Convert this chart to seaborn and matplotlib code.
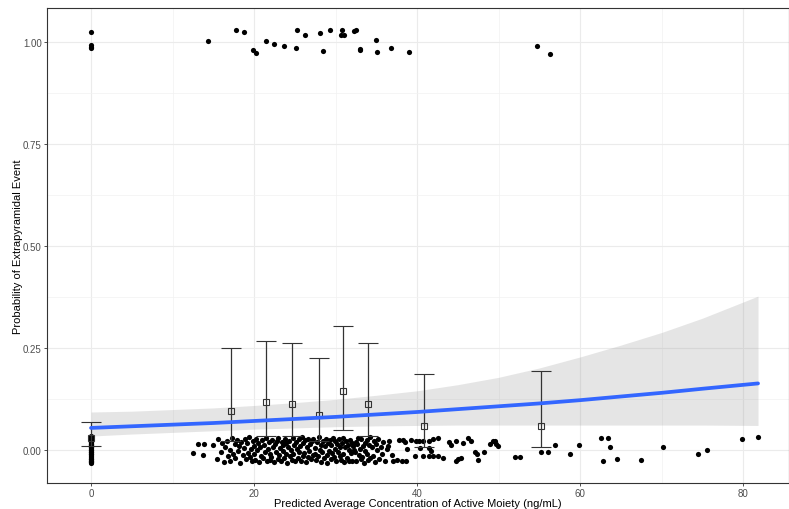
import matplotlib
matplotlib.use("Agg")
import matplotlib.pyplot as plt
import seaborn as sns
import pandas as pd
from matplotlib.ticker import FixedLocator

# ---------------- data ----------------
# subjects with an event (y near 1, vertically jittered)
event_x = [0, 0, 0, 0, 14.3, 17.8, 18.8, 19.9, 20.2, 21.5, 22.5, 23.7, 25.1, 25.3,
           26.2, 28.1, 28.4, 29.3, 30.6, 30.8, 31.0, 32.2, 32.5, 33.0, 33.0, 35.0,
           35.1, 36.8, 39.0, 54.7, 56.3]
event_y = [1.024, 0.993, 0.988, 0.984, 1.003, 1.030, 1.025, 0.980, 0.972, 1.001,
           0.996, 0.989, 0.985, 1.030, 1.017, 1.022, 0.978, 1.028, 1.016, 1.029,
           1.016, 1.026, 1.030, 0.983, 0.979, 1.005, 0.975, 0.985, 0.975, 0.991, 0.971]

# placebo subjects without an event (x = 0, jittered around 0)
zero_y = [0.031, -0.028, 0.015, -0.006, 0.024, -0.019, 0.002, -0.031, 0.011, 0.027,
          -0.013, -0.024, 0.019, 0.006, -0.002, 0.029, -0.017, 0.013, -0.029, 0.022,
          -0.009, 0.008, -0.021, 0.026, -0.004, 0.017, -0.026, 0.001, 0.033, -0.011,
          0.020, -0.015, 0.004, -0.030, 0.010, -0.007, 0.025, -0.022, 0.014, -0.001]

# dense band of non-event subjects (approx. 15-36 ng/mL)
dense_x = [15.0, 15.4, 15.6, 15.9, 16.1, 16.3, 16.4, 16.7, 16.8, 17.0,
           17.1, 17.3, 17.4, 17.6, 17.7, 17.9, 18.0, 18.1, 18.3, 18.4,
           18.6, 18.7, 18.9, 19.0, 19.1, 19.3, 19.4, 19.5,
           19.62, 19.71, 19.85, 19.93, 20.04, 20.12, 20.28, 20.37, 20.46, 20.58,
           20.71, 20.86, 20.97, 21.08, 21.16, 21.29, 21.42, 21.55, 21.68, 21.77,
           21.89, 21.98, 22.07, 22.21, 22.33, 22.41, 22.56, 22.68, 22.79, 22.88, 22.97,
           23.08, 23.17, 23.26, 23.38, 23.49, 23.57, 23.66, 23.78, 23.86, 23.97,
           24.09, 24.18, 24.27, 24.39, 24.51, 24.62, 24.71, 24.83, 24.92, 25.04,
           25.13, 25.22, 25.36, 25.45, 25.53, 25.64, 25.76, 25.85, 25.94, 26.03, 26.14,
           26.26, 26.35, 26.47, 26.58, 26.66, 26.77, 26.89, 26.98, 27.07, 27.19,
           27.28, 27.41, 27.52, 27.61, 27.73, 27.82, 27.94, 28.06, 28.15, 28.24,
           28.37, 28.46, 28.58, 28.69, 28.77, 28.88, 28.99, 29.08, 29.17, 29.29,
           29.38, 29.47,
           29.56, 29.68, 29.79, 29.87, 29.98, 30.07, 30.18, 30.26, 30.39, 30.48,
           30.57, 30.66, 30.78, 30.87, 30.96, 31.08, 31.19, 31.27, 31.36, 31.48,
           31.59, 31.67, 31.78, 31.86, 31.97, 32.06, 32.17, 32.28, 32.36, 32.44,
           32.53, 32.64, 32.77, 32.86, 32.95, 33.07, 33.16, 33.28, 33.37, 33.49,
           33.58, 33.66, 33.79, 33.88, 33.97, 34.08, 34.19, 34.27, 34.43, 34.56,
           34.68, 34.81, 34.93, 35.08, 35.21, 35.37, 35.52, 35.68, 35.83, 36.02, 36.24]
dense_y = [0.012, -0.021, 0.027, -0.004, 0.018, -0.029, 0.006, 0.023, -0.015, 0.001,
           -0.026, 0.030, -0.009, 0.014, -0.019, 0.025, -0.002, 0.009, -0.031, 0.020,
           -0.012, 0.004, 0.028, -0.023, 0.016, -0.007, 0.031, -0.017, 0.003, -0.028,
           0.022, -0.011, 0.010, -0.024, 0.026, -0.001, 0.017, -0.030, 0.007, -0.014,
           0.024, -0.020, 0.013, -0.005, 0.029, -0.027, 0.002, 0.019, -0.010, -0.025,
           -0.018, 0.025, 0.008, -0.030, 0.015, -0.006, 0.021, -0.022, 0.030, -0.013,
           0.004, -0.027, 0.019, 0.011, -0.003, -0.020, 0.027, -0.009, 0.016, -0.032,
           0.006, 0.023, -0.016, 0.000, -0.024, 0.029, -0.011, 0.013, -0.028, 0.020,
           0.002, -0.019, 0.026, -0.005, 0.010, -0.026, 0.031, -0.014, 0.017, -0.008,
           0.024, -0.029, 0.007, -0.017, 0.028, -0.002, 0.014, -0.023, 0.022, -0.012,
           0.027, -0.010, 0.005, -0.025, 0.019, -0.016, 0.031, 0.001, -0.029, 0.012,
           -0.006, 0.023, -0.020, 0.009, 0.028, -0.013, -0.031, 0.016, -0.002, 0.025,
           -0.022, 0.011, -0.008, 0.030, -0.018, 0.003, 0.021, -0.027, 0.014, -0.004,
           0.026, -0.015, 0.008, -0.024, 0.018, -0.011, 0.029, -0.030, 0.006, 0.022,
           -0.019, 0.013, -0.001, -0.026, 0.024, -0.007, 0.017, -0.028, 0.010, 0.000,
           -0.005, 0.020, -0.027, 0.014, 0.029, -0.012, 0.003, -0.022, 0.026, -0.017,
           0.009, -0.031, 0.018, -0.003, 0.024, -0.010, -0.025, 0.011, 0.031, -0.019,
           0.006, -0.014, 0.022, -0.029, 0.015, -0.001, 0.027, -0.021, 0.008, -0.009,
           0.019, -0.026, 0.002]

# sparser non-event subjects read individually
sparse_x = [12.5, 13.1, 13.7, 13.8,
            36.4, 36.6, 36.9, 37.0, 37.5, 37.8, 38.1, 38.2, 38.5, 38.6, 38.8, 39.2,
            39.7, 39.8, 40.2, 40.3, 40.7, 40.7, 41.4, 41.4, 41.4, 41.7, 41.9, 41.9,
            42.5, 42.6, 43.2, 43.9, 44.1, 44.7, 44.8, 45.0, 45.4, 45.6, 46.2, 46.6,
            47.1, 47.3, 47.4, 48.2, 48.9, 49.3, 49.6, 49.7, 49.9, 52.0, 52.6, 55.2,
            56.1, 56.9, 58.7, 59.9, 62.6, 62.8, 63.4, 63.7, 64.5, 67.4, 70.1, 74.4,
            75.6, 79.8, 81.8]
sparse_y = [-0.007, 0.015, -0.012, 0.015,
            0.010, 0.023, -0.012, -0.028, -0.024, 0.025, -0.026, 0.025, 0.020, -0.026,
            0.002, 0.025, -0.014, 0.022, 0.023, 0.004, 0.022, -0.014, 0.023, 0.004,
            -0.014, -0.002, 0.027, -0.015, 0.029, -0.015, -0.020, 0.020, 0.012, 0.021,
            -0.026, -0.022, -0.020, 0.016, 0.029, 0.021,
            -0.006, -0.010, -0.024, -0.006, 0.015, 0.021, 0.022, 0.015, 0.009, -0.018,
            -0.018, -0.006, -0.006, 0.013, -0.009, 0.012, 0.029, -0.026, 0.029, 0.007,
            -0.023, -0.025, 0.007, -0.010, 0.001, 0.026, 0.031]

# logistic fit and its 95% band
fit_x = [0, 5, 10, 15, 20, 25, 30, 35, 40, 45, 50, 55, 60, 65, 70, 75, 81.8]
fit_y = [0.054, 0.058, 0.062, 0.066, 0.071, 0.076, 0.081, 0.087, 0.093, 0.100,
         0.107, 0.114, 0.122, 0.131, 0.140, 0.150, 0.163]
fit_lo = [0.034, 0.039, 0.043, 0.047, 0.051, 0.054, 0.057, 0.059, 0.060, 0.061,
          0.061, 0.061, 0.061, 0.061, 0.061, 0.061, 0.060]
fit_hi = [0.093, 0.095, 0.099, 0.103, 0.109, 0.116, 0.124, 0.134, 0.145, 0.160,
          0.178, 0.201, 0.228, 0.257, 0.288, 0.323, 0.377]

# observed proportions by concentration bin with 95% CI
bin_x = [0, 17.2, 21.5, 24.6, 28.0, 30.9, 34.0, 40.8, 55.2]
bin_mean = [0.030, 0.096, 0.117, 0.113, 0.086, 0.145, 0.113, 0.058, 0.059]
bin_lo = [0.009, 0.021, 0.034, 0.034, 0.021, 0.050, 0.034, 0.008, 0.008]
bin_hi = [0.069, 0.251, 0.268, 0.261, 0.225, 0.303, 0.261, 0.187, 0.193]

x_ticks = [0, 20, 40, 60, 80]
y_ticks = [0.0, 0.25, 0.5, 0.75, 1.0]
y_tick_labels = ["0.00", "0.25", "0.50", "0.75", "1.00"]
x_title = "Predicted Average Concentration of Active Moiety (ng/mL)"
y_title = "Probability of Extrapyramidal Event"

# ---------------- build table ----------------
pts = pd.DataFrame({
    "conc": list(event_x) + [0] * len(zero_y) + list(dense_x) + list(sparse_x),
    "prob": list(event_y) + list(zero_y) + list(dense_y[:len(dense_x)]) + list(sparse_y[:len(sparse_x)]),
})
fit = pd.DataFrame({"conc": fit_x, "prob": fit_y, "lo": fit_lo, "hi": fit_hi})

# ---------------- plot ----------------
sns.set_theme(style="white")
plt.rcParams['font.family'] = ['Liberation Sans', 'DejaVu Sans']

fig = plt.figure(figsize=(7.89, 5.10), dpi=100)
ax = fig.add_axes([47 / 789, 1 - 484 / 510, (789 - 47) / 789, (484 - 9) / 510])

sns.scatterplot(data=pts, x="conc", y="prob", color="black", s=14, linewidth=0,
                ax=ax, zorder=3)

ax.fill_between(fit["conc"], fit["lo"], fit["hi"], color="#999999", alpha=0.25,
                linewidth=0, zorder=2)

yerr = [[m - l for m, l in zip(bin_mean, bin_lo)], [h - m for m, h in zip(bin_mean, bin_hi)]]
ax.errorbar(bin_x, bin_mean, yerr=yerr, fmt="s", mfc="none", mec="#333333", ms=5,
            mew=0.8, ecolor="#333333", elinewidth=0.9, capsize=7.5, capthick=0.9,
            zorder=4)

sns.lineplot(data=fit, x="conc", y="prob", color="#3366FF", linewidth=2.7, ax=ax,
             zorder=5)

ax.set_xlim(-5.4, 85.6)
ax.set_ylim(-0.081, 1.083)
ax.set_xticks(x_ticks)
ax.set_xticklabels([str(t) for t in x_ticks])
ax.set_yticks(y_ticks)
ax.set_yticklabels(y_tick_labels)
ax.xaxis.set_minor_locator(FixedLocator([10, 30, 50, 70]))
ax.yaxis.set_minor_locator(FixedLocator([0.125, 0.375, 0.625, 0.875]))

ax.grid(which="major", color="#EBEBEB", linewidth=0.8)
ax.grid(which="minor", color="#F2F2F2", linewidth=0.5)
ax.set_axisbelow(True)

for s in ax.spines.values():
    s.set_color("#333333")
    s.set_linewidth(0.8)

ax.tick_params(which="major", length=2.5, width=0.6, color="#333333",
               labelsize=7, labelcolor="#4D4D4D", pad=1.2, bottom=True, left=True)
ax.tick_params(which="minor", length=0)

ax.set_xlabel(x_title, fontsize=8, color="black", labelpad=0)
ax.set_ylabel(y_title, fontsize=8, color="black", labelpad=0)

fig.savefig("out.png", dpi=100)
